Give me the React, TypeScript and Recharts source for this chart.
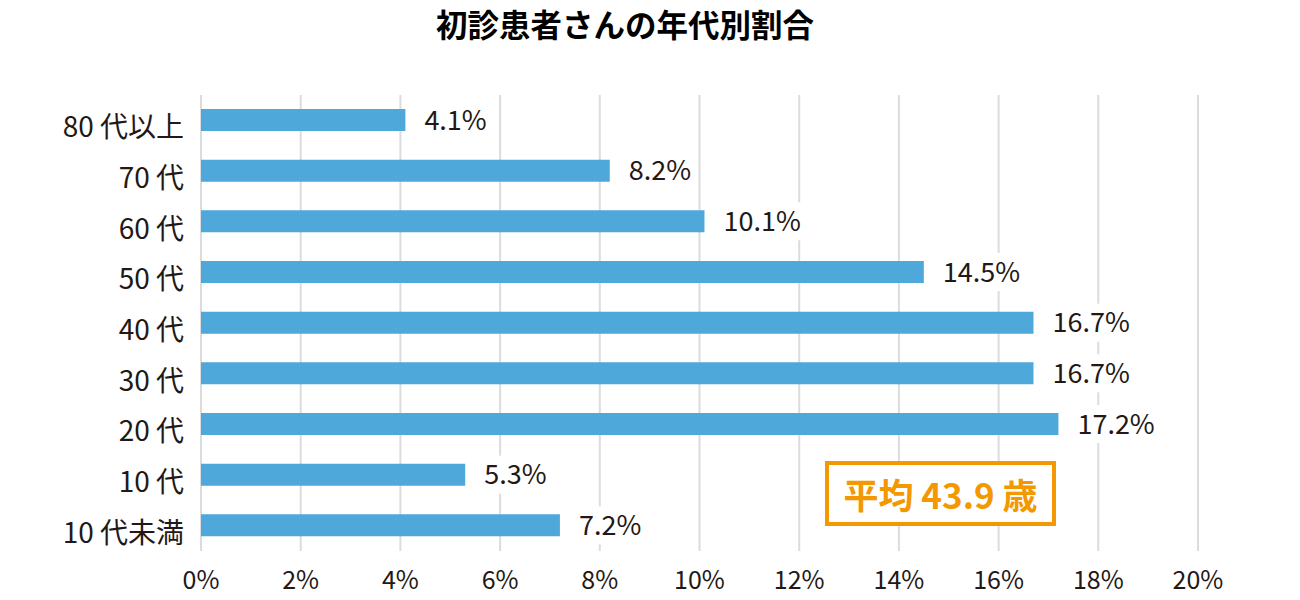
import { BarChart, Bar, XAxis, YAxis, CartesianGrid, LabelList } from "recharts";

const ageGroups = ["80 代以上", "70 代", "60 代", "50 代", "40 代", "30 代", "20 代", "10 代", "10 代未満"];
const shares = [4.1, 8.2, 10.1, 14.5, 16.7, 16.7, 17.2, 5.3, 7.2];
const xTicks = [0, 2, 4, 6, 8, 10, 12, 14, 16, 18, 20];

const data = ageGroups.map((name, i) => ({ name, share: shares[i] }));

const FONT = '"Noto Sans CJK JP", "Noto Sans", sans-serif';
const TEXT = "#231815";

// rough width of the label text, used for the white box behind it
function textWidth(s: string, size: number) {
  let w = 0;
  for (const ch of s) {
    if (ch === ".") w += 0.27;
    else if (ch === "%") w += 0.86;
    else w += 0.555;
  }
  return w * size;
}

function ValueLabel(props: any) {
  const { x, y, width, height, value } = props;
  const size = 27;
  const text = `${value}%`;
  const tx = x + width + 19;
  const cy = y + height / 2;
  const tw = textWidth(text, size);
  return (
    <g>
      <rect x={x + width + 6} y={cy - 19} width={tw + 20} height={38} fill="#fff" />
      <text
        x={tx}
        y={cy - 2}
        dominantBaseline="central"
        fontSize={size}
        fontFamily={FONT}
        fill={TEXT}
      >
        {text}
      </text>
    </g>
  );
}

function AgeTick(props: any) {
  const { x, y, payload } = props;
  return (
    <text
      x={x}
      y={y + 5}
      textAnchor="end"
      dominantBaseline="central"
      fontSize={28}
      fontFamily={FONT}
      fill={TEXT}
    >
      {payload.value}
    </text>
  );
}

export default function App() {
  return (
    <div style={{ position: "absolute", left: 0, top: 0, width: 1300, height: 600, background: "#fff", fontFamily: FONT }}>
      <div
        style={{
          position: "absolute",
          top: 3,
          left: 0,
          width: 1250,
          height: 40,
          lineHeight: "40px",
          textAlign: "center",
          fontSize: 31.5,
          fontWeight: 700,
          color: "#000",
        }}
      >
        初診患者さんの年代別割合
      </div>
      <BarChart
        width={1300}
        height={600}
        data={data}
        layout="vertical"
        margin={{ top: 95, right: 102, bottom: 0, left: 0 }}
        barCategoryGap={14}
      >
        <CartesianGrid horizontal={false} stroke="#dcdcdc" strokeWidth={2} />
        <XAxis
          type="number"
          domain={[0, 20]}
          ticks={xTicks}
          tickFormatter={(v) => `${v}%`}
          axisLine={false}
          tickLine={false}
          tickMargin={14}
          height={49}
          interval={0}
          tick={{ fontSize: 25, fill: TEXT, fontFamily: FONT }}
        />
        <YAxis
          type="category"
          dataKey="name"
          width={201}
          axisLine={false}
          tickLine={false}
          tickMargin={11}
          interval={0}
          tick={AgeTick}
        />
        <Bar dataKey="share" fill="#4ea9da" barSize={22} isAnimationActive={false}>
          <LabelList dataKey="share" content={ValueLabel} />
        </Bar>
      </BarChart>
      <div
        style={{
          position: "absolute",
          left: 825,
          top: 461,
          width: 223,
          height: 57,
          border: "4px solid #f39800",
          background: "#fff",
          color: "#f39800",
          fontSize: 35,
          fontWeight: 700,
          display: "flex",
          alignItems: "center",
          justifyContent: "center",
          boxSizing: "content-box",
        }}
      >
        平均 43.9 歳
      </div>
    </div>
  );
}
